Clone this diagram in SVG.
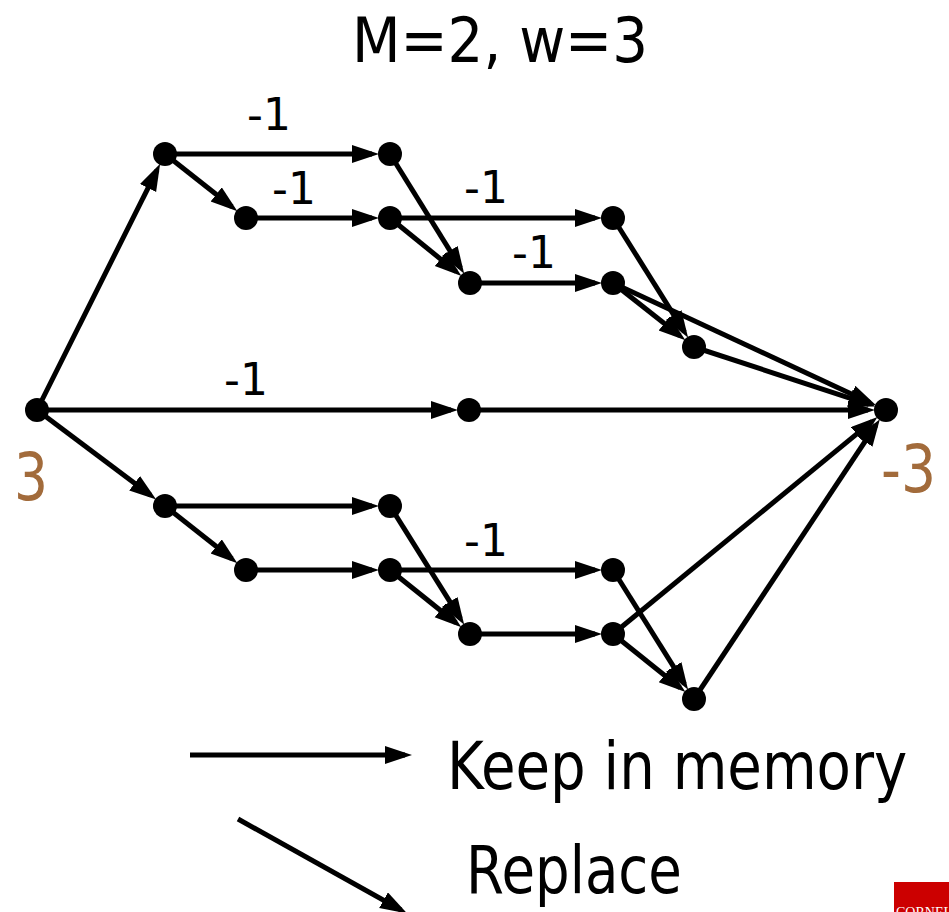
<svg xmlns="http://www.w3.org/2000/svg" width="949" height="912" viewBox="0 0 949 912">
<defs>
<style>
.e{stroke:#000;stroke-width:5;fill:none;marker-end:url(#ah)}
.n{fill:#000}
.t{font-family:"DejaVu Sans","Liberation Sans",sans-serif;fill:#000}
.lbl{font-size:44px;text-anchor:middle}
.br{fill:#A26B3B;font-size:66px}
</style>
<marker id="ah" markerUnits="userSpaceOnUse" markerWidth="30" markerHeight="20" refX="20" refY="9" orient="auto">
<path d="M0,0 L27,9 L0,18 z" fill="#000"/>
</marker>
</defs>
<rect width="949" height="912" fill="#fff"/>
<text class="t" x="352" y="62" font-size="62" textLength="296" lengthAdjust="spacingAndGlyphs">M=2, w=3</text>
<g id="connectors">
<line class="e" x1="37" y1="410" x2="157" y2="170.1"/>
<line class="e" x1="165" y1="154" x2="372" y2="154"/>
<line class="e" x1="165" y1="154" x2="231.9" y2="206.8"/>
<line class="e" x1="246" y1="218" x2="372" y2="218"/>
<line class="e" x1="390" y1="154" x2="460.5" y2="267.7"/>
<line class="e" x1="390" y1="218" x2="456" y2="271.6"/>
<line class="e" x1="390" y1="218" x2="595" y2="218"/>
<line class="e" x1="470" y1="283" x2="595" y2="283"/>
<line class="e" x1="613" y1="218" x2="684.4" y2="331.8"/>
<line class="e" x1="613" y1="283" x2="679.9" y2="335.8"/>
<line class="e" x1="613" y1="283" x2="869.7" y2="402.4"/>
<line class="e" x1="694" y1="347" x2="868.9" y2="404.4"/>
<line class="e" x1="37" y1="410" x2="451" y2="410"/>
<line class="e" x1="469" y1="410" x2="868" y2="410"/>
<line class="e" x1="37" y1="410" x2="150.6" y2="495.2"/>
<line class="e" x1="165" y1="506" x2="372" y2="506"/>
<line class="e" x1="165" y1="506" x2="231.9" y2="558.8"/>
<line class="e" x1="246" y1="570" x2="372" y2="570"/>
<line class="e" x1="390" y1="506" x2="460.5" y2="618.7"/>
<line class="e" x1="390" y1="570" x2="455.9" y2="622.8"/>
<line class="e" x1="390" y1="570" x2="595" y2="570"/>
<line class="e" x1="470" y1="634" x2="595" y2="634"/>
<line class="e" x1="613" y1="570" x2="684.4" y2="683.8"/>
<line class="e" x1="613" y1="634" x2="680" y2="687.7"/>
<line class="e" x1="613" y1="634" x2="872.1" y2="421.4"/>
<line class="e" x1="694" y1="699" x2="876" y2="425"/>
<line class="e" x1="190" y1="755" x2="405" y2="755"/>
<line class="e" x1="238" y1="819" x2="401" y2="910"/>
</g>
<g id="labels">
<text class="t lbl" x="269" y="130">-1</text>
<text class="t lbl" x="294" y="204">-1</text>
<text class="t lbl" x="486" y="203">-1</text>
<text class="t lbl" x="534" y="268">-1</text>
<text class="t lbl" x="246" y="395">-1</text>
<text class="t lbl" x="486" y="556">-1</text>
</g>
<g id="source"><circle class="n" cx="37" cy="410" r="12"/><text class="t br" x="14" y="500" textLength="34" lengthAdjust="spacingAndGlyphs">3</text></g>
<g id="sink"><circle class="n" cx="886" cy="410" r="12"/><text class="t br" x="881" y="492" textLength="55" lengthAdjust="spacingAndGlyphs">-3</text></g>
<g id="t1"><circle class="n" cx="165" cy="154" r="12"/></g>
<g id="t2"><circle class="n" cx="390" cy="154" r="12"/></g>
<g id="t3"><circle class="n" cx="246" cy="218" r="12"/></g>
<g id="t4"><circle class="n" cx="390" cy="218" r="12"/></g>
<g id="t5"><circle class="n" cx="470" cy="283" r="12"/></g>
<g id="t6"><circle class="n" cx="613" cy="218" r="12"/></g>
<g id="t7"><circle class="n" cx="613" cy="283" r="12"/></g>
<g id="t8"><circle class="n" cx="694" cy="347" r="12"/></g>
<g id="mid"><circle class="n" cx="469" cy="410" r="12"/></g>
<g id="b1"><circle class="n" cx="165" cy="506" r="12"/></g>
<g id="b2"><circle class="n" cx="390" cy="506" r="12"/></g>
<g id="b3"><circle class="n" cx="246" cy="570" r="12"/></g>
<g id="b4"><circle class="n" cx="390" cy="570" r="12"/></g>
<g id="b5"><circle class="n" cx="470" cy="634" r="12"/></g>
<g id="b6"><circle class="n" cx="613" cy="570" r="12"/></g>
<g id="b7"><circle class="n" cx="613" cy="634" r="12"/></g>
<g id="b8"><circle class="n" cx="694" cy="699" r="12"/></g>
<g id="legend">
<text class="t" font-size="65" transform="translate(447,789) scale(0.864,1)">Keep in memory</text>
<text class="t" font-size="65" transform="translate(466,893) scale(0.84,1)">Replace</text>
</g>
<g id="logo">
<rect x="894" y="882" width="55" height="30" fill="#CC0000"/>
<text x="896" y="917" font-family="Liberation Serif,serif" font-size="14" fill="#fff">CORNELL</text>
</g>
</svg>
